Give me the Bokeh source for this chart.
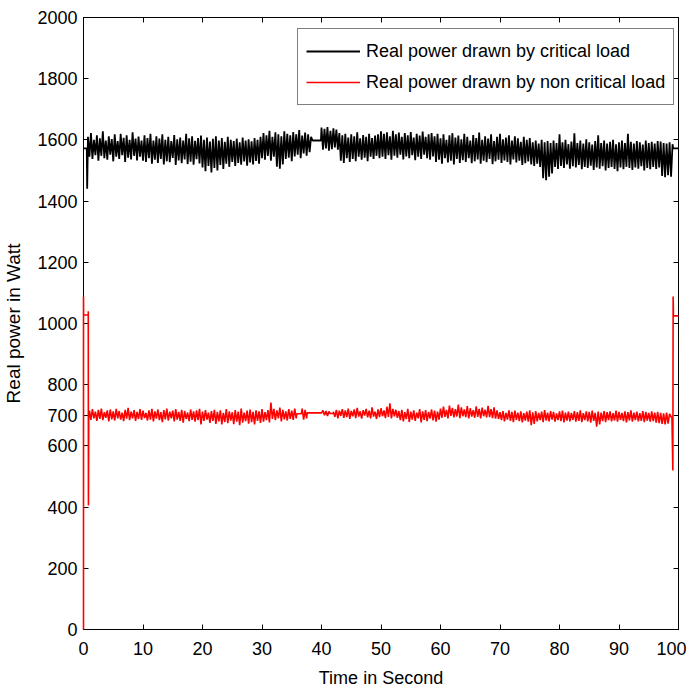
import numpy as np
from bokeh.plotting import figure
from bokeh.models import Range1d, FixedTicker, LinearAxis, Legend, LegendItem
from bokeh.embed import file_html
from bokeh.resources import INLINE

# ---------------- data ----------------
x_ticks = [0, 10, 20, 30, 40, 50, 60, 70, 80, 90, 100]
y_ticks = [0, 200, 400, 600, 700, 800, 1000, 1200, 1400, 1600, 1800, 2000]

# critical load (black)
crit_pre_t = [0.0, 0.55, 0.62]
crit_pre_v = [1572, 1572, 1440]
crit_noise1_start = 0.75
crit_noise1 = [
    1610,1545,1622,1538,1600,1550,1615,1532,1605,1548,1628,1540,1598,1535,1612,1552,1603,1530,1618,1545,
    1596,1538,1620,1550,1607,1528,1615,1542,1600,1536,1625,1548,1604,1533,1611,1545,1598,
    1532,1615,1528,1606,1540,1620,1522,1598,1535,1612,1525,1604,1538,1618,1520,1600,1530,1610,1527,1596,
    1541,1616,1518,1602,1533,1608,1524,1598,1536,1620,1521,1605,1529,1612,1519,1597,1537,1606,1523,1614,
    1510,1600,1498,1608,1515,1595,1494,1604,1508,1612,1500,1598,1518,1606,1505,1594,1522,1610,1512,1600,
    1528,1596,1515,1604,1525,1592,1519,1608,1530,1598,1516,1602,1526,1595,1520,1606,1531,1600,1522,1610,
    1540,1622,1535,1615,1548,1630,1532,1610,1545,1625,1512,1618,1506,1612,1520,1628,1538,1620,1542,1615,
    1530,1626,1546,1618,1552,1632,1540,1614,1556,1624,1548,1618,1560,1610,
]
crit_flat_t = [38.5, 39.9]
crit_flat_v = [1598, 1598]
crit_noise2_start = 40.0
crit_noise2 = [
    1640,1568,1636,1572,1642,1565,1630,1570,1638,1575,1634,1568,
    1622,1532,1615,1525,1620,1540,1608,1528,1618,1538,1612,1530,1625,1545,1605,1535,1616,1542,1610,1530,
    1620,1545,1606,1538,1614,1548,1618,1540,
    1628,1545,1620,1538,1625,1550,1612,1535,1630,1548,1618,1542,1624,1552,1610,1536,1622,1546,1615,1540,
    1626,1550,1608,1534,1620,1545,1614,1538,1627,1552,1610,1540,1618,1535,1622,1546,
    1612,1528,1620,1535,1605,1522,1618,1540,1600,1526,1615,1532,1622,1520,1608,1538,1614,1525,1602,1534,
    1620,1528,1610,1540,1598,1524,1616,1530,1606,1536,1624,1522,1600,1532,1612,1527,1604,1538,1618,1521,
    1596,1530,1610,1535,1620,1525,1602,1533,1608,1528,1615,1520,1598,1536,1612,1526,1605,1532,1594,1518,
    1610,1524,1600,1530,1606,1520,1592,1515,1598,1522,1588,1512,
    1600,1475,1592,1468,1596,1480,1590,1490,
    1598,1512,1590,1505,1618,1515,1592,1508,1600,1520,1586,1506,1595,1514,1622,1510,1590,1518,1598,1504,
    1588,1512,1602,1508,1592,1516,1585,1502,1596,1510,1615,1506,1590,1514,1598,1500,1588,1508,1594,1512,
    1600,1505,1586,1498,1592,1510,1598,1504,1590,1512,1620,1508,1594,1502,1588,1510,1596,1506,1592,1514,
    1585,1500,1598,1508,1590,1504,1594,1512,1588,1505,1596,1510,
    1595,1482,1590,1478,1588,1485,1592,1480,1586,
]
crit_post_t = [99.1, 100.0]
crit_post_v = [1572, 1572]

# non critical load (red)
nonc_pre_t = [0.0, 0.0, 0.02, 0.8, 0.8, 0.83, 0.88]
nonc_pre_v = [0, 1088, 1028, 1028, 1040, 405, 700]
nonc_noise1_start = 1.0
nonc_noise1 = [
    715,685,720,690,712,682,718,688,722,684,710,692,716,680,719,687,713,683,721,690,
    714,686,709,681,718,689,724,684,712,690,717,682,711,688,720,685,715,691,708,683,
    716,686,721,680,713,689,719,684,710,678,717,687,722,683,712,690,715,680,720,686,
    711,682,718,676,714,688,709,681,719,685,713,679,716,684,721,670,712,682,717,686,
    709,675,714,682,718,672,711,680,716,670,708,678,720,674,713,683,710,671,717,679,
    712,668,722,676,709,681,715,673,719,678,711,670,716,682,713,675,720,679,710,684,
    717,677,742,688,
    721,684,716,690,725,680,718,687,713,683,720,688,715,685,722,690,
]
nonc_mid_t = [35.85, 36.6, 36.75, 37.0, 37.25, 37.5, 37.6, 40.0, 40.25, 40.5, 40.75, 41.0, 41.25, 41.5, 42.0]
nonc_mid_v = [705, 705, 722, 686, 718, 690, 708, 708, 716, 700, 714, 698, 712, 706, 706]
nonc_noise2_start = 42.0
nonc_noise2 = [
    712,695,718,690,715,698,720,692,716,694,722,688,714,697,719,691,724,696,713,689,
    717,699,721,693,715,690,726,696,712,688,719,694,723,697,716,691,728,695,739,690,
    721,697,718,692,
    714,684,718,680,710,688,721,678,712,686,716,682,709,690,720,677,713,685,717,681,
    711,689,719,683,715,679,712,686,
    722,692,728,695,718,690,732,698,724,693,720,696,735,691,726,697,719,694,730,690,
    723,696,717,692,729,695,721,690,725,697,718,693,731,694,720,691,726,689,716,688,
    710,684,714,680,708,686,716,682,711,678,715,685,709,681,713,677,707,683,712,679,
    716,668,710,672,714,680,708,684,712,678,717,683,709,680,714,686,711,679,706,684,
    713,681,715,677,709,683,712,680,708,685,714,679,710,682,716,678,707,684,713,680,
    711,676,715,682,708,663,712,670,709,681,714,678,710,684,713,680,707,683,715,679,
    711,685,708,681,713,677,710,683,716,679,709,684,712,680,707,682,714,678,711,683,
    708,679,713,681,709,676,711,674,708,672,706,670,709,673,705,
]
nonc_post_t = [98.9, 99.05, 99.1, 99.15, 100.0]
nonc_post_v = [690, 520, 1088, 1025, 1025]

STEP = 0.25


def build(pre_t, pre_v, parts, post_t, post_v):
    ts, vs = [np.array(pre_t, float)], [np.array(pre_v, float)]
    for p in parts:
        if p[0] == "noise":
            start, vals = p[1], p[2]
            ts.append(start + STEP * np.arange(len(vals)))
            vs.append(np.array(vals, float))
        else:
            ts.append(np.array(p[1], float))
            vs.append(np.array(p[2], float))
    ts.append(np.array(post_t, float))
    vs.append(np.array(post_v, float))
    return np.concatenate(ts), np.concatenate(vs)


crit_t, crit_v = build(crit_pre_t, crit_pre_v,
                       [("noise", crit_noise1_start, crit_noise1),
                        ("pts", crit_flat_t, crit_flat_v),
                        ("noise", crit_noise2_start, crit_noise2)],
                       crit_post_t, crit_post_v)
nonc_t, nonc_v = build(nonc_pre_t, nonc_pre_v,
                       [("noise", nonc_noise1_start, nonc_noise1),
                        ("pts", nonc_mid_t, nonc_mid_v),
                        ("noise", nonc_noise2_start, nonc_noise2)],
                       nonc_post_t, nonc_post_v)

# ---------------- figure ----------------
FONT = "Liberation Sans"

p = figure(width=686, height=693, output_backend="svg", toolbar_location=None,
           x_range=Range1d(0, 100), y_range=Range1d(0, 2000),
           min_border_left=83, min_border_right=8, min_border_top=17, min_border_bottom=64)
p.background_fill_color = "white"
p.border_fill_color = "white"
p.outline_line_color = "black"
p.outline_line_width = 1
p.grid.visible = False

l1 = p.line(crit_t, crit_v, line_color="#000000", line_width=1.8)
l2 = p.line(nonc_t, nonc_v, line_color="#ff0000", line_width=1.6)
l2.level = "overlay"


def style_axis(ax, ticks, show_labels=True):
    ax.ticker = FixedTicker(ticks=ticks)
    ax.major_tick_in = 5
    ax.major_tick_out = 0
    ax.minor_tick_line_color = None
    ax.axis_line_color = "black"
    ax.major_tick_line_color = "black"
    ax.major_label_text_font = FONT
    ax.major_label_text_color = "black"
    if show_labels:
        ax.major_label_text_font_size = "18px"
    else:
        ax.major_label_text_font_size = "1px"
        ax.major_label_text_color = None
        ax.major_label_standoff = 0


xa = p.xaxis[0]
ya = p.yaxis[0]
style_axis(xa, x_ticks)
style_axis(ya, y_ticks)
xa.major_label_standoff = 12
ya.major_label_standoff = 6
xa.axis_label = "Time in Second"
ya.axis_label = "Real power in Watt"
for ax in (xa, ya):
    ax.axis_label_text_font = FONT
    ax.axis_label_text_font_style = "normal"
    ax.axis_label_text_color = "black"
xa.axis_label_text_font_size = "18px"
ya.axis_label_text_font_size = "19px"
xa.axis_label_standoff = 10
ya.axis_label_standoff = 10

top_ax = LinearAxis()
style_axis(top_ax, x_ticks, show_labels=False)
p.add_layout(top_ax, "above")
right_ax = LinearAxis()
style_axis(right_ax, y_ticks, show_labels=False)
p.add_layout(right_ax, "right")

legend = Legend(items=[
    LegendItem(label="Real power drawn by critical load", renderers=[l1]),
    LegendItem(label="Real power drawn by non critical load", renderers=[l2]),
], location=(214, 524))
legend.label_text_font = FONT
legend.label_text_font_size = "18px"
legend.label_text_color = "black"
legend.glyph_width = 54
legend.glyph_height = 28
legend.label_height = 28
legend.label_standoff = 6
legend.spacing = 3
legend.padding = 8
legend.margin = 0
legend.border_line_color = "black"
legend.border_line_width = 1
legend.background_fill_color = "white"
legend.background_fill_alpha = 1
p.add_layout(legend)

open("out.html", "w").write(file_html(p, INLINE))
